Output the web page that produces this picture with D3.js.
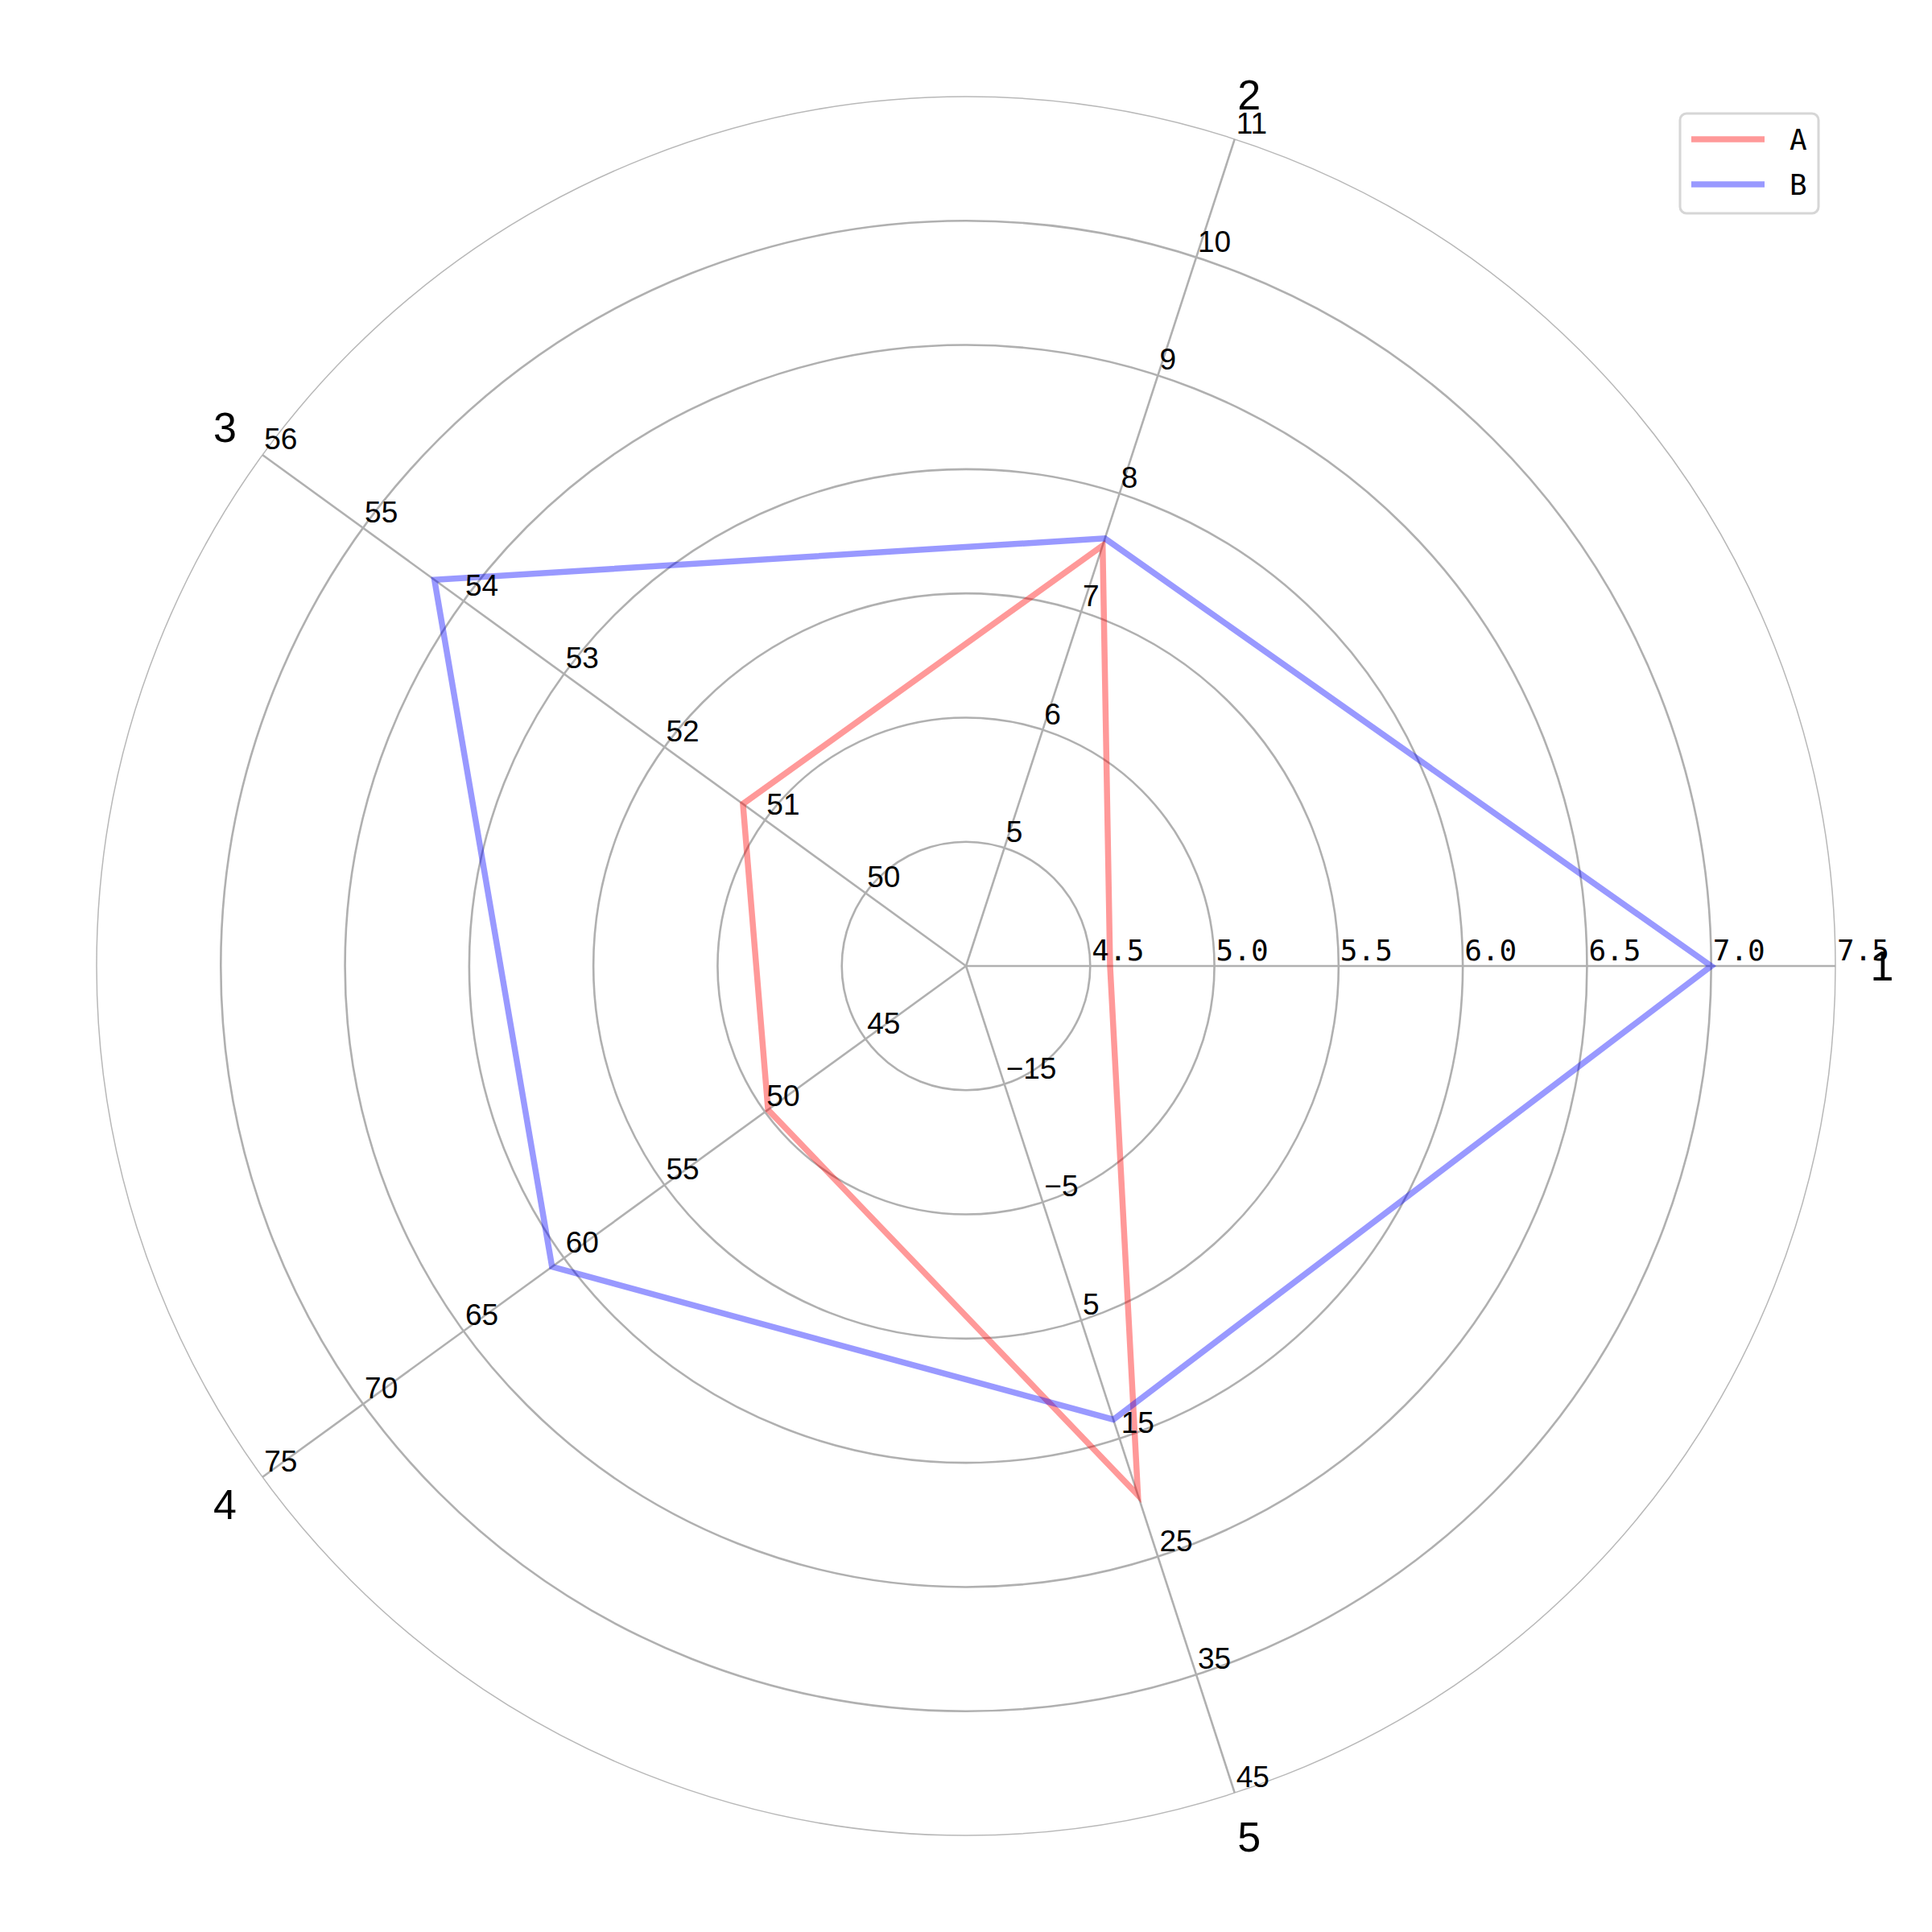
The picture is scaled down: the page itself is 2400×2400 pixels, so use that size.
<!DOCTYPE html>
<html>
<head>
<meta charset="utf-8">
<script src="https://cdn.jsdelivr.net/npm/d3@7"></script>
<style>
    html, body { margin: 0; padding: 0; background: #fff; }
</style>
</head>
<body>
<div id="chart"></div>
<script>
'use strict';

// Axis names, one radial scale per axis (value at centre, value at outer ring)
var categories = ['1', '2', '3', '4', '5'];
var axisDomains = [[4.0, 7.5], [4, 11], [49, 56], [40, 75], [-25, 45]];
var axisTicks = [
    [4.5, 5.0, 5.5, 6.0, 6.5, 7.0, 7.5],
    [5, 6, 7, 8, 9, 10, 11],
    [50, 51, 52, 53, 54, 55, 56],
    [45, 50, 55, 60, 65, 70, 75],
    [-15, -5, 5, 15, 25, 35, 45]
];

var seriesNames = ['A', 'B'];
var seriesA = [4.58, 7.56, 51.22, 49.85, 19.8];
var seriesB = [7.0, 7.62, 54.29, 60.6, 13.4];
var seriesColors = ['#ff0000', '#0000ff'];

var width = 2400,
    height = 2400,
    cx = 1200,
    cy = 1200,
    radius = 1080,
    ringCount = 7;

var svg = d3.select('#chart').append('svg')
    .attr('width', width)
    .attr('height', height);

var ringScale = d3.scaleLinear().domain([0, ringCount]).range([0, radius]);
var angleScale = d3.scaleLinear().domain([0, categories.length]).range([0, 2 * Math.PI]);

var scales = axisDomains.map(function (d) {
    return d3.scaleLinear().domain(d).range([0, radius]);
});

function point(i, r) {
    var a = angleScale(i);
    return [cx + r * Math.cos(a), cy - r * Math.sin(a)];
}

var grid = svg.append('g');

// rings
grid.selectAll('circle.ring')
    .data(d3.range(1, ringCount))
    .enter().append('circle')
    .attr('class', 'ring')
    .attr('cx', cx)
    .attr('cy', cy)
    .attr('r', function (d) { return ringScale(d); })
    .attr('fill', 'none')
    .attr('stroke', '#b0b0b0')
    .attr('stroke-width', 2.6);

// outer spine
grid.append('circle')
    .attr('cx', cx)
    .attr('cy', cy)
    .attr('r', radius)
    .attr('fill', 'none')
    .attr('stroke', '#b8b8b8')
    .attr('stroke-width', 1.5);

// spokes
grid.selectAll('line.spoke')
    .data(categories)
    .enter().append('line')
    .attr('class', 'spoke')
    .attr('x1', cx)
    .attr('y1', cy)
    .attr('x2', function (d, i) { return point(i, radius)[0]; })
    .attr('y2', function (d, i) { return point(i, radius)[1]; })
    .attr('stroke', '#b0b0b0')
    .attr('stroke-width', 2.6);

function drawTicks(i, font, size, fmt) {
    svg.append('g').selectAll('text')
        .data(axisTicks[i])
        .enter().append('text')
        .attr('x', function (d) { return point(i, scales[i](d))[0] + 2; })
        .attr('y', function (d) { return point(i, scales[i](d))[1] - 7; })
        .attr('font-family', font)
        .attr('font-size', size)
        .attr('fill', '#000')
        .text(function (d) { return d3.format(fmt)(d); });
}

// first axis labels sit under the data lines
drawTicks(0, '"DejaVu Sans Mono", monospace', 36, '.1f');

// data polygons
var line = d3.line();
[seriesA, seriesB].forEach(function (values, s) {
    var pts = values.map(function (v, i) { return point(i, scales[i](v)); });
    svg.append('path')
        .attr('d', line(pts) + 'Z')
        .attr('fill', 'none')
        .attr('stroke', seriesColors[s])
        .attr('stroke-opacity', 0.4)
        .attr('stroke-width', 7.5)
        .attr('stroke-linejoin', 'miter');
});

for (var i = 1; i < categories.length; i++) {
    drawTicks(i, '"Liberation Sans", Arial, sans-serif', 37, 'd');
}

// category labels
svg.append('g').selectAll('text')
    .data(categories)
    .enter().append('text')
    .attr('x', function (d, i) { return point(i, 1138)[0]; })
    .attr('y', function (d, i) { return point(i, 1138)[1]; })
    .attr('text-anchor', 'middle')
    .attr('dominant-baseline', 'central')
    .attr('font-family', '"Liberation Sans", Arial, sans-serif')
    .attr('font-size', 52)
    .attr('fill', '#000')
    .text(function (d) { return d; });

// legend
var legend = svg.append('g').attr('transform', 'translate(2087,141)');
legend.append('rect')
    .attr('width', 172)
    .attr('height', 124)
    .attr('rx', 8)
    .attr('fill', '#fff')
    .attr('stroke', '#d6d6d6')
    .attr('stroke-width', 3);

var item = legend.selectAll('g.item')
    .data(seriesNames)
    .enter().append('g')
    .attr('class', 'item')
    .attr('transform', function (d, i) { return 'translate(0,' + (32 + i * 56) + ')'; });

item.append('line')
    .attr('x1', 14)
    .attr('x2', 105)
    .attr('stroke', function (d, i) { return seriesColors[i]; })
    .attr('stroke-opacity', 0.4)
    .attr('stroke-width', 7.5);

item.append('text')
    .attr('x', 136)
    .attr('dominant-baseline', 'central')
    .attr('font-family', '"DejaVu Sans Mono", monospace')
    .attr('font-size', 36)
    .attr('fill', '#000')
    .text(function (d) { return d; });
</script>
</body>
</html>
